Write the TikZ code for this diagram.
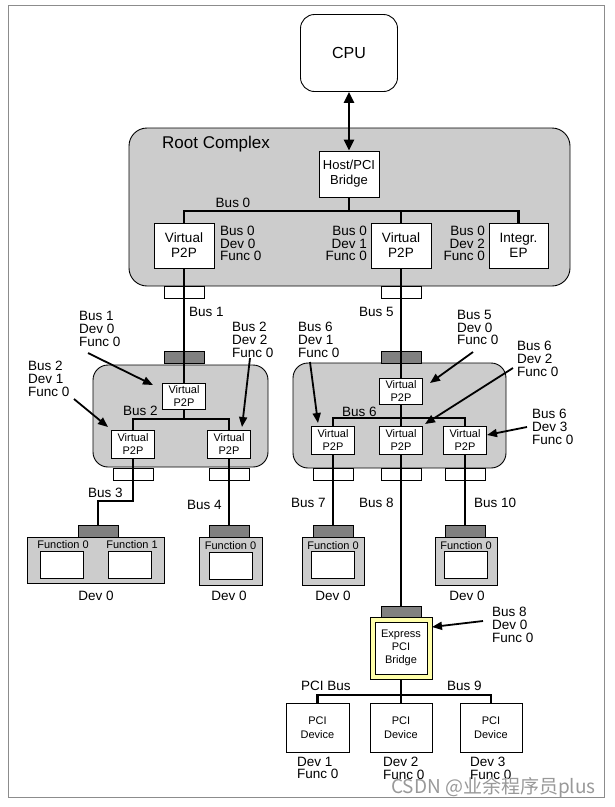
\documentclass[tikz,border=0pt]{standalone}
\usepackage{fontspec}
\setmainfont{Liberation Sans}
\newfontfamily\cjkfont{Noto Sans CJK SC}
\usepackage{xcolor}
\usetikzlibrary{
    arrows.meta,
    shapes,
    positioning
}
\definecolor{grp}{gray}{0.8}
\definecolor{portgray}{gray}{0.5}
\definecolor{bridgeyellow}{RGB}{255,255,170}
\newcommand{\fs}[2]{\fontsize{#1}{#2}\selectfont}
\tikzset{%
    >={Triangle[width=8pt,length=10pt]},
    % Specifications for style of nodes:
    plain/.style = {},
    base/.style = {
        plain,
        rectangle, draw=black, line width=0.9pt,
        inner sep=0pt, text centered,
        fill=white, align=center
    },
    cpu/.style = {base, rounded corners=14pt, minimum width=97pt, minimum height=77pt, font=\fs{16}{18}},
    group/.style = {base, fill=grp, rounded corners=15pt},
    vpp/.style = {base, minimum width=60pt, minimum height=45pt, font=\fs{13.5}{15}},
    svpp/.style = {base, minimum width=43pt, minimum height=28pt, font=\fs{11}{12.5}},
    upport/.style = {base, fill=portgray, minimum width=40pt, minimum height=12pt},
    dnport/.style = {base, minimum width=40pt, minimum height=12pt},
    dev/.style = {base, fill=grp, minimum height=48pt},
    func/.style = {base, minimum width=43pt, minimum height=27pt},
    pcidev/.style = {base, minimum width=63pt, minimum height=49pt, font=\fs{11}{14}},
    lbl/.style = {plain, inner sep=0pt, align=left, font=\fs{13.5}{12.8}},
    flbl/.style = {plain, inner sep=0pt, font=\fs{11}{12}},
    bus/.style = {line width=2.6pt},
    pointer/.style = {->, line width=1.8pt}
}

\begin{document}
\begin{tikzpicture}[x=1pt, y=-1pt]
    \useasboundingbox (0,0) rectangle (614,807);
    \draw[black!45, line width=1.4pt] (8.5,5.5) rectangle (604.5,797.5);

    % CPU and root complex
    \node[cpu] (cpu) at (349,53) {CPU};
    \node[group, rounded corners=18pt, minimum width=441pt, minimum height=158pt] (rc) at (349.5,207) {};
    \node[plain, anchor=west, inner sep=0pt, font=\fs{17}{19}] (rclbl) at (162,144) {Root Complex};
    \node[base, minimum width=60pt, minimum height=46pt, font=\fs{13}{15}] (host) at (349,174) {Host/PCI\\Bridge};
    \draw[{Triangle[width=10pt,length=11pt]}-{Triangle[width=10pt,length=11pt]}, line width=2.8pt] (cpu) -- (host);

    \node[vpp] (vp0a) at (184,245.5) {Virtual\\P2P};
    \node[vpp] (vp0b) at (401,245.5) {Virtual\\P2P};
    \node[vpp, minimum width=59pt] (ep) at (518.5,245.5) {Integr.\\EP};
    \coordinate (b0) at (349,211);
    \draw[bus] (host) -- (b0);
    \draw[bus] (vp0a.north) |- (b0) -| (ep.north);
    \draw[bus] (vp0b.north) -- (vp0b.north |- b0);
    \node[lbl] at (233,203) {Bus 0};
    \node[lbl, anchor=west] (l00) at (220,243.5) {Bus 0\\Dev 0\\Func 0};
    \node[lbl, anchor=east, align=right] (l01) at (367,243.5) {Bus 0\\Dev 1\\Func 0};
    \node[lbl, anchor=east, align=right] (l02) at (485,243.5) {Bus 0\\Dev 2\\Func 0};
    \node[dnport] (rp1) at (184,292.5) {};
    \node[dnport] (rp2) at (401,292.5) {};

    % left switch
    \node[group, minimum width=175pt, minimum height=102pt] (sw1) at (180.5,416) {};
    \node[upport] (sw1up) at (184,357) {};
    \node[svpp, minimum height=26pt] (sw1vp) at (184,396) {Virtual\\P2P};
    \node[svpp] (sw1vpa) at (133,444) {Virtual\\P2P};
    \node[svpp] (sw1vpb) at (229,444) {Virtual\\P2P};
    \node[dnport] (sw1pa) at (133,474.5) {};
    \node[dnport] (sw1pb) at (229,474.5) {};
    \coordinate (b2) at (184,419);
    \draw[bus] (vp0a) -- (sw1vp);
    \draw[bus] (sw1vp) -- (b2);
    \draw[bus] (sw1vpa.north) |- (b2) -| (sw1vpb.north);
    \node[lbl, anchor=west] at (189,312) {Bus 1};
    \node[lbl, anchor=west] at (123,411) {Bus 2};

    % right switch
    \node[group, minimum width=213pt, minimum height=105pt] (sw2) at (399.5,415.5) {};
    \node[upport] (sw2up) at (401,357) {};
    \node[svpp, minimum height=26pt] (sw2vp) at (401,391) {Virtual\\P2P};
    \node[svpp] (sw2vpa) at (333,440) {Virtual\\P2P};
    \node[svpp] (sw2vpb) at (401,440) {Virtual\\P2P};
    \node[svpp] (sw2vpc) at (465,440) {Virtual\\P2P};
    \node[dnport] (sw2pa) at (333,474.5) {};
    \node[dnport] (sw2pb) at (401,474.5) {};
    \node[dnport] (sw2pc) at (465,474.5) {};
    \coordinate (b6) at (401,418);
    \draw[bus] (vp0b) -- (sw2vp);
    \draw[bus] (sw2vp) -- (sw2vpb);
    \draw[bus] (sw2vpa.north) |- (b6) -| (sw2vpc.north);
    \node[lbl, anchor=west] at (359,311.5) {Bus 5};
    \node[lbl, anchor=west] at (342,411.5) {Bus 6};

    % endpoints
    \node[dev, minimum width=137pt, minimum height=46pt] (devA) at (95.5,560) {};
    \node[upport] (devAp) at (98,531) {};
    \node[func] (fa0) at (62,564.5) {};
    \node[func] (fa1) at (129.5,564.5) {};
    \node[flbl] at (63,544.5) {Function 0};
    \node[flbl] at (132,544.5) {Function 1};
    \node[dev, minimum width=63pt] (devB) at (230.5,561) {};
    \node[upport] (devBp) at (229,531) {};
    \node[func] (fb0) at (230.5,565.5) {};
    \node[flbl] at (230.5,546) {Function 0};
    \node[dev, minimum width=62pt] (devC) at (333,561) {};
    \node[upport] (devCp) at (333,531) {};
    \node[func] (fc0) at (333,565) {};
    \node[flbl] at (333,546) {Function 0};
    \node[dev, minimum width=62pt] (devD) at (466,561) {};
    \node[upport] (devDp) at (465,531) {};
    \node[func] (fd0) at (466,565) {};
    \node[flbl] at (466,546) {Function 0};
    \foreach \x in {96,229,333,467} \node[lbl] at (\x,596) {Dev 0};

    \coordinate (b3) at (133,501);
    \draw[bus] (sw1vpa) -- (b3) -| (devAp);
    \draw[bus] (sw1vpb) -- (devBp);
    \draw[bus] (sw2vpa) -- (devCp);
    \draw[bus] (sw2vpc) -- (devDp);
    \node[lbl, anchor=west] at (88,493) {Bus 3};
    \node[lbl, anchor=west] at (187,505) {Bus 4};
    \node[lbl, anchor=west] at (291,503) {Bus 7};
    \node[lbl, anchor=west] at (359,503) {Bus 8};
    \node[lbl, anchor=west] at (474,503) {Bus 10};

    % PCI express to PCI bridge
    \node[upport, minimum height=11pt] (brp) at (401,611.5) {};
    \node[base, fill=bridgeyellow, minimum width=62pt, minimum height=62pt] (brout) at (401,648) {};
    \node[base, minimum width=52pt, minimum height=52pt, font=\fs{11}{13}] (br) at (401,648) {Express\\PCI\\Bridge};
    \draw[bus] (sw2vpb) -- (brp);
    \node[pcidev] (pci1) at (317.5,727.5) {PCI\\Device};
    \node[pcidev, minimum width=62pt] (pci2) at (401,727.5) {PCI\\Device};
    \node[pcidev, minimum width=62pt] (pci3) at (491,727.5) {PCI\\Device};
    \coordinate (b9) at (401,695);
    \draw[bus] (brout) -- (pci2);
    \draw[bus] (pci1.north) |- (b9) -| (pci3.north);
    \node[lbl, anchor=west] at (301,686) {PCI Bus};
    \node[lbl, anchor=west] at (447,686) {Bus 9};
    \node[lbl, anchor=west] at (297,768) {Dev 1\\Func 0};
    \node[lbl, anchor=west] at (383,768) {Dev 2\\Func 0};
    \node[lbl, anchor=west] at (470,768) {Dev 3\\Func 0};

    % id labels with pointers
    \node[lbl, anchor=west] (id1) at (79,329) {Bus 1\\Dev 0\\Func 0};
    \node[lbl, anchor=west] (id2) at (232,340) {Bus 2\\Dev 2\\Func 0};
    \node[lbl, anchor=west] (id3) at (28,379) {Bus 2\\Dev 1\\Func 0};
    \node[lbl, anchor=west] (id4) at (298,340) {Bus 6\\Dev 1\\Func 0};
    \node[lbl, anchor=west] (id5) at (457,327.5) {Bus 5\\Dev 0\\Func 0};
    \node[lbl, anchor=west] (id6) at (517,359) {Bus 6\\Dev 2\\Func 0};
    \node[lbl, anchor=west] (id7) at (532,427) {Bus 6\\Dev 3\\Func 0};
    \node[lbl, anchor=west] (id8) at (492,625) {Bus 8\\Dev 0\\Func 0};
    \coordinate (p1s) at (88,353);  \coordinate (p1e) at (153,385);
    \coordinate (p2s) at (250,358); \coordinate (p2e) at (242,427);
    \coordinate (p3s) at (74,399);  \coordinate (p3e) at (108,427);
    \coordinate (p4s) at (310,362); \coordinate (p4e) at (318,423);
    \coordinate (p5s) at (473,352); \coordinate (p5e) at (430,383);
    \coordinate (p6s) at (513,368); \coordinate (p6e) at (425,424);
    \coordinate (p7s) at (527,427); \coordinate (p7e) at (487,435);
    \coordinate (p8s) at (483,621); \coordinate (p8e) at (432,627);
    \foreach \i in {1,...,8} \draw[pointer] (p\i s) -- (p\i e);

    \node[plain, anchor=west, inner sep=0pt, text=black!40, font=\cjkfont\fs{19}{21}] (wm) at (391,788) {CSDN @业余程序员plus};
\end{tikzpicture}
\end{document}
